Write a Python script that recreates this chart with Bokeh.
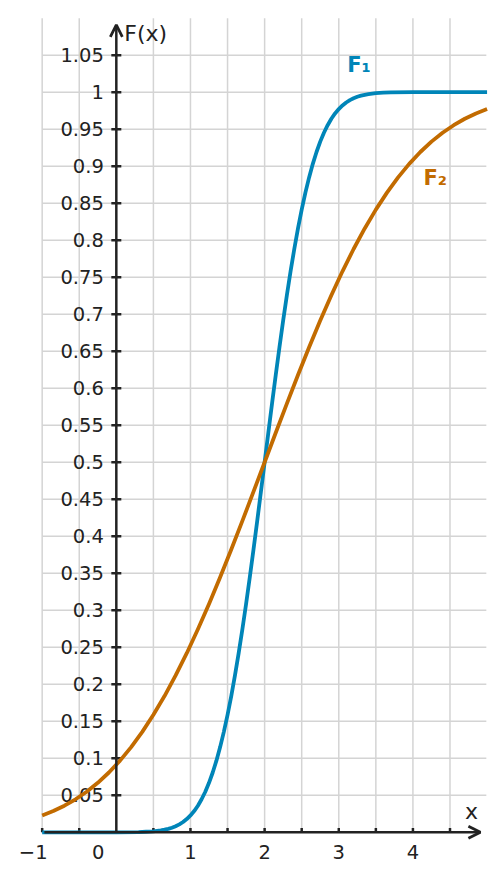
from bokeh.plotting import figure
from bokeh.models import Range1d, Arrow, OpenHead
from bokeh.core.properties import value
from bokeh.embed import file_html
from bokeh.resources import INLINE

# Distribution function F1 (narrow), centred at x = 2
f1_x = [-1.0, 0.0, 0.3, 0.4,
        0.5, 0.55, 0.6, 0.65, 0.7, 0.75, 0.8, 0.85, 0.9, 0.95, 1.0, 1.05,
        1.1, 1.15, 1.2, 1.25, 1.3, 1.35, 1.4, 1.45, 1.5, 1.55, 1.6, 1.65,
        1.7, 1.75, 1.8, 1.85, 1.9, 1.95, 2.0, 2.05, 2.1, 2.15, 2.2, 2.25,
        2.3, 2.35, 2.4, 2.45, 2.5, 2.55, 2.6, 2.65, 2.7, 2.75, 2.8, 2.85,
        2.9, 2.95, 3.0, 3.05, 3.1, 3.15, 3.2, 3.25, 3.3, 3.35, 3.4, 3.45,
        3.5, 3.6, 3.7, 4.0, 5.0]
f1_y = [0.0, 0.0, 0.0003, 0.0007,
        0.0013, 0.0019, 0.0026, 0.0035, 0.0047, 0.0062, 0.0082, 0.0107,
        0.0139, 0.0179, 0.0228, 0.0287, 0.0359, 0.0446, 0.0548, 0.0668,
        0.0808, 0.0968, 0.1151, 0.1357, 0.1587, 0.1841, 0.2119, 0.2420,
        0.2743, 0.3085, 0.3446, 0.3821, 0.4207, 0.4602, 0.5, 0.5398, 0.5793,
        0.6179, 0.6554, 0.6915, 0.7257, 0.7580, 0.7881, 0.8159, 0.8413,
        0.8643, 0.8849, 0.9032, 0.9192, 0.9332, 0.9452, 0.9554, 0.9641,
        0.9713, 0.9772, 0.9821, 0.9861, 0.9893, 0.9918, 0.9938, 0.9953,
        0.9965, 0.9974, 0.9981, 0.9987, 0.9993, 0.9997, 1.0, 1.0]

# Distribution function F2 (wide), centred at x = 2
f2_x = [-1.0, -0.85, -0.7, -0.55, -0.4, -0.25, -0.1, 0.05, 0.2, 0.35, 0.5,
        0.65, 0.8, 0.95, 1.1, 1.25, 1.4, 1.55, 1.7, 1.85, 2.0, 2.15, 2.3,
        2.45, 2.6, 2.75, 2.9, 3.05, 3.2, 3.35, 3.5, 3.65, 3.8, 3.95, 4.1,
        4.25, 4.4, 4.55, 4.7, 4.85, 5.0]
f2_y = [0.0228, 0.0287, 0.0359, 0.0446, 0.0548, 0.0668, 0.0808, 0.0968,
        0.1151, 0.1357, 0.1587, 0.1841, 0.2119, 0.2420, 0.2743, 0.3085,
        0.3446, 0.3821, 0.4207, 0.4602, 0.5, 0.5398, 0.5793, 0.6179, 0.6554,
        0.6915, 0.7257, 0.7580, 0.7881, 0.8159, 0.8413, 0.8643, 0.8849,
        0.9032, 0.9192, 0.9332, 0.9452, 0.9554, 0.9641, 0.9713, 0.9772]

# Axis ticks and their labels
y_ticks = [0.05, 0.1, 0.15, 0.2, 0.25, 0.3, 0.35, 0.4, 0.45, 0.5, 0.55, 0.6,
           0.65, 0.7, 0.75, 0.8, 0.85, 0.9, 0.95, 1.0, 1.05]
y_labels = ["0.05", "0.1", "0.15", "0.2", "0.25", "0.3", "0.35", "0.4", "0.45",
            "0.5", "0.55", "0.6", "0.65", "0.7", "0.75", "0.8", "0.85", "0.9",
            "0.95", "1", "1.05"]
x_labels_pos = [1, 2, 3, 4]
x_labels = ["1", "2", "3", "4"]
x_minor = [-1.0, -0.5, 0.5, 1.0, 1.5, 2.0, 2.5, 3.0, 3.5, 4.0, 4.5]
grid_x = [-1.0, -0.5, 0.5, 1.0, 1.5, 2.0, 2.5, 3.0, 3.5, 4.0, 4.5]
grid_y = y_ticks

BLUE = "#0085B8"
ORANGE = "#C26B00"
INK = "#222222"
GRID = "#D4D4D4"
FONT = value("DejaVu Sans")
TICK_SIZE = "19.5px"

p = figure(width=504, height=881, output_backend="svg", toolbar_location=None,
           x_axis_type=None, y_axis_type=None, min_border=0,
           x_range=Range1d(-1.562, 5.235), y_range=Range1d(-0.0665, 1.1239))
p.outline_line_color = None
p.background_fill_color = "white"
p.border_fill_color = "white"

# light grid
p.segment(x0=grid_x, x1=grid_x, y0=[0.0] * len(grid_x), y1=[1.1] * len(grid_x),
          line_color=GRID, line_width=1.5)
p.segment(x0=[-1.0] * len(grid_y), x1=[4.99] * len(grid_y), y0=grid_y, y1=grid_y,
          line_color=GRID, line_width=1.5)

# axes with open arrow heads
p.add_layout(Arrow(x_start=-0.97, y_start=0, x_end=4.91, y_end=0,
                   line_color=INK, line_width=2.5,
                   end=OpenHead(size=12, line_color=INK, line_width=2.8)))
p.add_layout(Arrow(x_start=0, y_start=0, x_end=0, y_end=1.091,
                   line_color=INK, line_width=2.5,
                   end=OpenHead(size=12, line_color=INK, line_width=2.8)))

# tick marks
p.scatter(x=[0.0] * len(y_ticks), y=y_ticks, marker="dash", size=10,
          line_color=INK, line_width=2.5)
p.segment(x0=x_minor, x1=x_minor, y0=[0.0] * len(x_minor),
          y1=[0.0058] * len(x_minor), line_color=INK, line_width=2.5)

# tick labels
p.text(x=[0.0] * len(y_ticks), y=y_ticks, text=y_labels, x_offset=-12.5,
       text_align="right", text_baseline="middle", text_font=FONT,
       text_font_size=TICK_SIZE, text_color=INK)
p.text(x=x_labels_pos, y=[-0.027] * len(x_labels_pos), text=x_labels,
       text_align="center", text_baseline="middle", text_font=FONT,
       text_font_size=TICK_SIZE, text_color=INK)
p.text(x=[0.0], y=[-0.027], text=["0"], x_offset=-18, text_align="center",
       text_baseline="middle", text_font=FONT, text_font_size=TICK_SIZE,
       text_color=INK)
p.text(x=[-1.0], y=[-0.027], text=["\u22121"], x_offset=-9, text_align="center",
       text_baseline="middle", text_font=FONT, text_font_size=TICK_SIZE,
       text_color=INK)

# axis names
p.text(x=[0.0], y=[1.0789], text=["F(x)"], x_offset=8, text_align="left",
       text_baseline="middle", text_font=FONT, text_font_size="22px",
       text_color=INK)
p.text(x=[4.79], y=[0.0276], text=["x"], text_align="center",
       text_baseline="middle", text_font=FONT, text_font_size="22px",
       text_color=INK)

# the two distribution curves
p.line(f1_x, f1_y, line_color=BLUE, line_width=3.8, line_join="round")
p.line(f2_x, f2_y, line_color=ORANGE, line_width=3.8, line_join="round")

# curve names
p.text(x=[3.114], y=[1.0361], text=["F\u2081"], text_align="left",
       text_baseline="middle", text_font=FONT, text_font_style="bold",
       text_font_size="21px", text_color=BLUE)
p.text(x=[4.143], y=[0.8847], text=["F\u2082"], text_align="left",
       text_baseline="middle", text_font=FONT, text_font_style="bold",
       text_font_size="21px", text_color=ORANGE)

open("out.html", "w").write(file_html(p, INLINE))
